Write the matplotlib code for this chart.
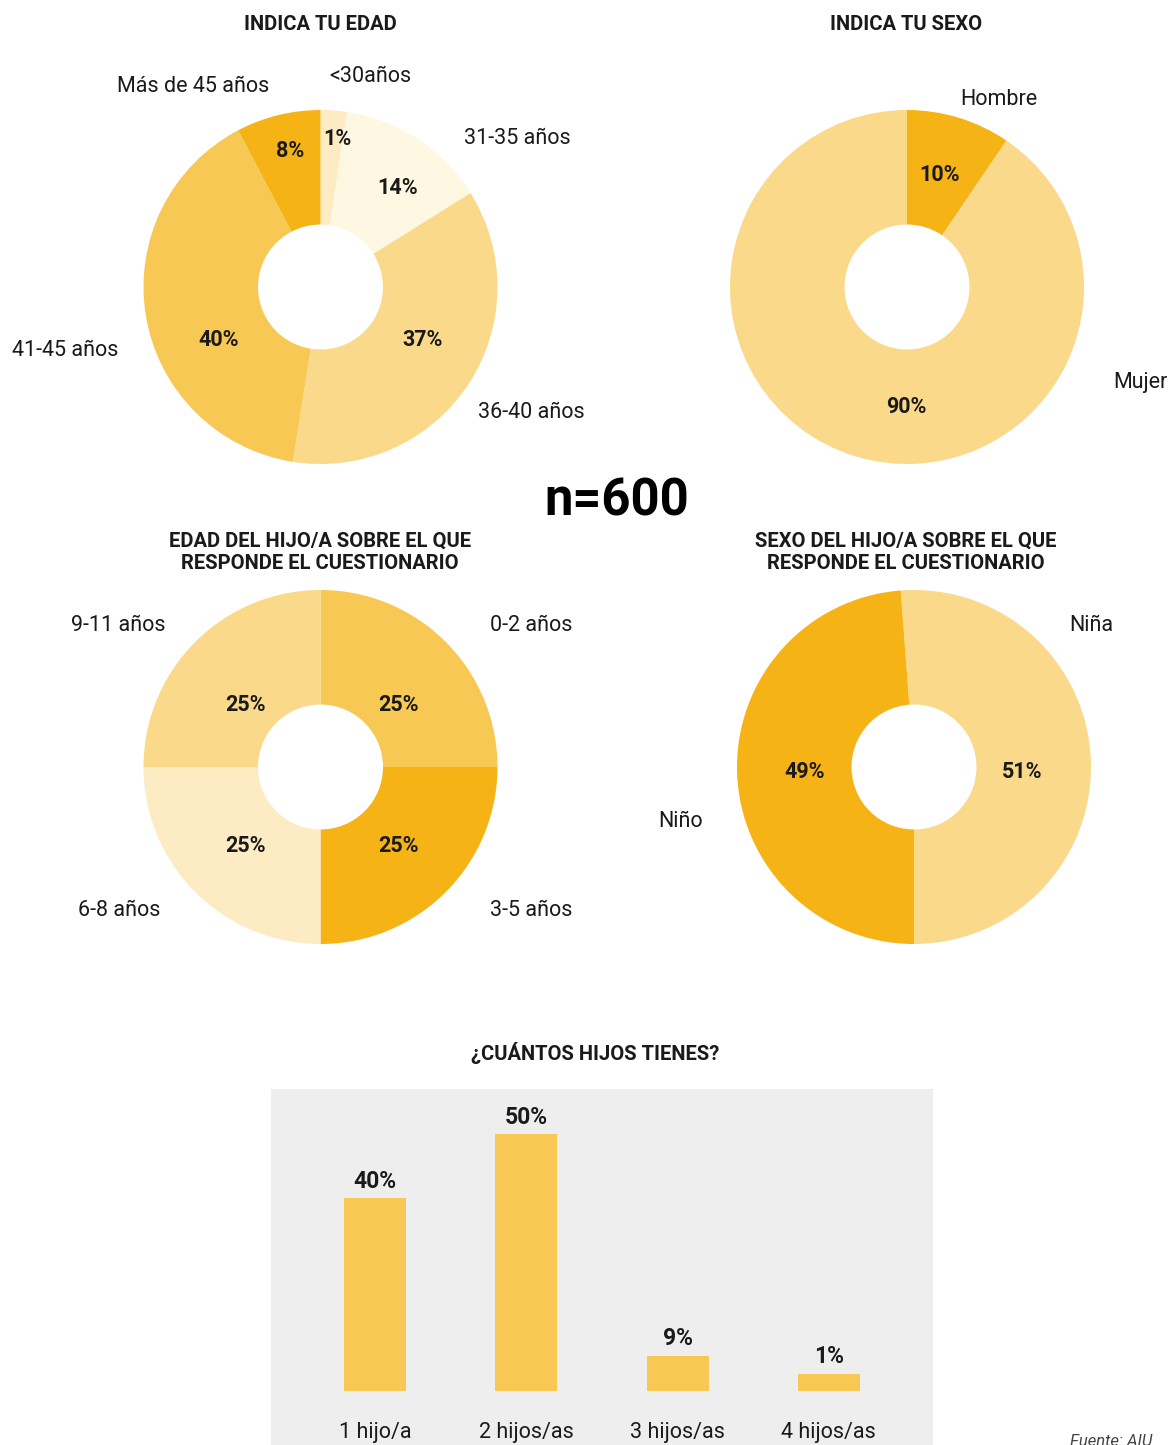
import matplotlib
matplotlib.use("Agg")
import matplotlib.pyplot as plt
import numpy as np

plt.rcParams['font.family'] = ['Roboto', 'DejaVu Sans']

W, H = 1173, 1445

# ---------------- data ----------------
edad_labels = ["<30años", "31-35 años", "36-40 años", "41-45 años", "Más de 45 años"]
edad_values = [2.4, 13.7, 36.4, 39.8, 7.7]
edad_pct = ["1%", "14%", "37%", "40%", "8%"]

sexo_labels = ["Hombre", "Mujer"]
sexo_values = [9.5, 90.5]
sexo_pct = ["10%", "90%"]

hijo_edad_labels = ["0-2 años", "3-5 años", "6-8 años", "9-11 años"]
hijo_edad_values = [25, 25, 25, 25]
hijo_edad_pct = ["25%", "25%", "25%", "25%"]

hijo_sexo_labels = ["Niña", "Niño"]
hijo_sexo_values = [51.2, 48.8]
hijo_sexo_pct = ["51%", "49%"]

hijos_cats = ["1 hijo/a", "2 hijos/as", "3 hijos/as", "4 hijos/as"]
hijos_values = [37.6, 50, 6.9, 3.4]
hijos_pct = ["40%", "50%", "9%", "1%"]

# ---------------- style ----------------
C_DARK = "#F5B316"
C_MED = "#F7C853"
C_LIGHT = "#FAD98A"
C_PALE = "#FDEBC4"
C_PALEST = "#FEF7E2"
TXT = "#1a1a1a"

fig = plt.figure(figsize=(W / 100, H / 100), dpi=100)
fig.patch.set_facecolor("white")


def fx(px):
    return px / W


def fy(py):
    return 1 - py / H


def donut(cx, cy, values, colors, labels, label_pos, pcts, pct_pos,
          startangle=90, counterclock=False, R=177, hole=0.353):
    ax = fig.add_axes([(cx - R) / W, 1 - (cy + R) / H, 2 * R / W, 2 * R / H])
    ax.pie(values, colors=colors, startangle=startangle,
           counterclock=counterclock, radius=1,
           wedgeprops=dict(width=1 - hole, linewidth=0))
    ax.set_xlim(-1, 1)
    ax.set_ylim(-1, 1)
    ax.axis("off")
    for p, (x, y) in zip(pcts, pct_pos):
        ax.text(x, y, p, ha="center", va="center",
                fontsize=15.5, fontweight="bold", color=TXT, clip_on=False)
    for lab, (x, y) in zip(labels, label_pos):
        ax.text(x, y, lab, ha="center", va="center", fontsize=15.5,
                color=TXT, clip_on=False)
    return ax


# Pie 1: edad
donut(320.5, 287, edad_values, [C_PALE, C_PALEST, C_LIGHT, C_MED, C_DARK],
      edad_labels,
      [(0.28, 1.19), (1.11, 0.84), (1.19, -0.71), (-1.44, -0.36), (-0.72, 1.13)],
      edad_pct,
      [(0.093, 0.836), (0.438, 0.559), (0.579, -0.299), (-0.573, -0.299), (-0.172, 0.768)])

# Pie 2: sexo
donut(907, 287, sexo_values, [C_DARK, C_LIGHT], sexo_labels,
      [(0.52, 1.06), (1.32, -0.54)], sexo_pct,
      [(0.186, 0.633), (-0.006, -0.678)])

# Pie 3: edad hijo
donut(320.5, 767, hijo_edad_values, [C_MED, C_DARK, C_PALE, C_LIGHT],
      hijo_edad_labels,
      [(1.19, 0.80), (1.19, -0.81), (-1.14, -0.81), (-1.14, 0.80)],
      hijo_edad_pct,
      [(0.438, 0.350), (0.438, -0.446), (-0.421, -0.446), (-0.421, 0.350)])

# Pie 4: sexo hijo
donut(914, 767, hijo_sexo_values, [C_LIGHT, C_DARK], hijo_sexo_labels,
      [(1.0, 0.80), (-1.32, -0.31)], hijo_sexo_pct,
      [(0.61, -0.028), (-0.616, -0.028)],
      startangle=-90, counterclock=True)

# Titles
tkw = dict(ha="center", va="center", fontsize=14.5, fontweight="bold", color=TXT)
fig.text(fx(320), fy(25), "INDICA TU EDAD", **tkw)
fig.text(fx(906), fy(25), "INDICA TU SEXO", **tkw)
fig.text(fx(320), fy(552), "EDAD DEL HIJO/A SOBRE EL QUE\nRESPONDE EL CUESTIONARIO",
         linespacing=1.2, **tkw)
fig.text(fx(906), fy(552), "SEXO DEL HIJO/A SOBRE EL QUE\nRESPONDE EL CUESTIONARIO",
         linespacing=1.2, **tkw)
fig.text(fx(595), fy(1053), "¿CUÁNTOS HIJOS TIENES?", **tkw)
fig.text(fx(617), fy(502), "n=600", ha="center", va="center", fontsize=36.5,
         fontweight="bold", color="black")

# Bar chart
axb = fig.add_axes([fx(271), 0, (933 - 271) / W, (1445 - 1089) / H])
axb.set_facecolor("#EEEEEE")
x = np.arange(len(hijos_cats))
bars = axb.bar(x, hijos_values, width=0.41, color=C_MED, linewidth=0)
axb.set_xlim(-0.69, 3.69)
axb.set_ylim(-10.5, 58.75)
for s in axb.spines.values():
    s.set_visible(False)
axb.set_xticks([])
axb.set_yticks([])
for b, p in zip(bars, hijos_pct):
    axb.text(b.get_x() + b.get_width() / 2, b.get_height() + 1.0, p,
             ha="center", va="bottom", fontsize=16.5, fontweight="bold", color=TXT)
for xi, c in zip(x, hijos_cats):
    axb.text(xi, -8, c, ha="center", va="center", fontsize=15.5, color=TXT)

fig.text(fx(1070), fy(1434), "Fuente: AIU", ha="left", va="top",
         fontsize=12, style="italic", color="#444444")

fig.savefig("out.png", dpi=100, facecolor="white")
